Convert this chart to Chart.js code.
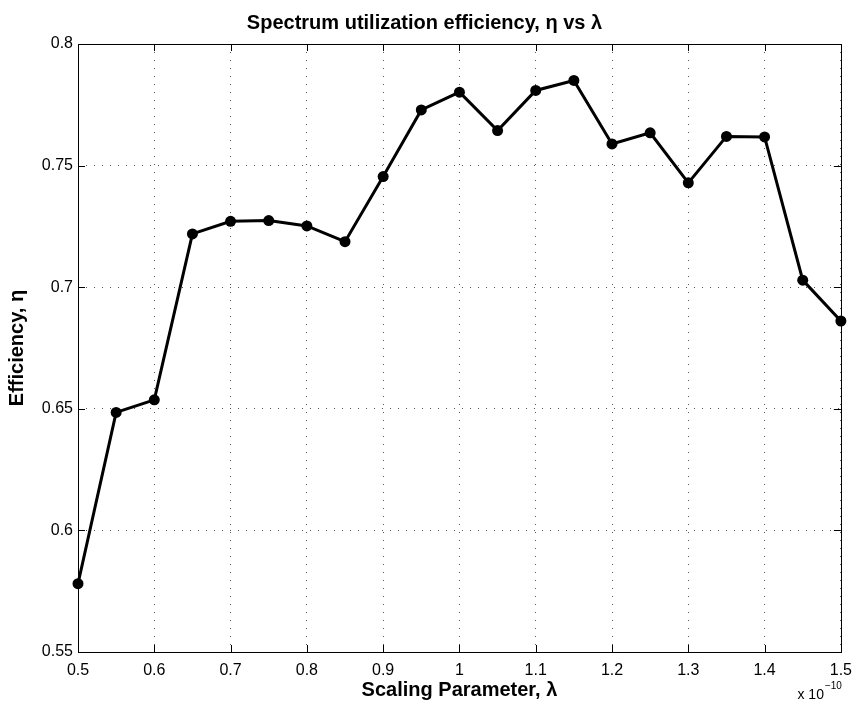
<!DOCTYPE html>
<html><head><meta charset="utf-8">
<script src="https://cdn.jsdelivr.net/npm/chart.js@4.4.1/dist/chart.umd.min.js"></script>
<style>html,body{margin:0;padding:0;background:#fff}#wrap{width:861px;height:705px;position:relative}</style>
</head><body><div id="wrap"><canvas id="c"></canvas></div>
<script>
const lambdaValues = [0.5,0.55,0.6,0.65,0.7,0.75,0.8,0.85,0.9,0.95,1.0,1.05,1.1,1.15,1.2,1.25,1.3,1.35,1.4,1.45,1.5];
const efficiency = [0.5781,0.6485,0.6537,0.7219,0.7271,0.7274,0.7252,0.7187,0.7455,0.7729,0.7802,0.7644,0.7809,0.7850,0.7589,0.7635,0.7429,0.7620,0.7618,0.7029,0.6861];
const xTickValues = [0.5,0.6,0.7,0.8,0.9,1.0,1.1,1.2,1.3,1.4,1.5];
const xTickLabels = ['0.5','0.6','0.7','0.8','0.9','1','1.1','1.2','1.3','1.4','1.5'];
const yTickValues = [0.55,0.6,0.65,0.7,0.75,0.8];
const yTickLabels = ['0.55','0.6','0.65','0.7','0.75','0.8'];
const chartTitle = 'Spectrum utilization efficiency, \u03B7 vs \u03BB';
const xTitle = 'Scaling Parameter, \u03BB';
const yTitle = 'Efficiency, \u03B7';
const xMultiplier = ['x 10', '\u221210'];

const FONT = "'Liberation Sans', Arial, Helvetica, sans-serif";

const boxPlugin = {
  id: 'box',
  afterDatasetsDraw(chart) {
    const {ctx, chartArea: a, scales} = chart;
    ctx.save();
    ctx.strokeStyle = '#000';
    ctx.lineWidth = 1;
    ctx.setLineDash([]);
    const L = 7;
    ctx.beginPath();
    scales.x.ticks.forEach(t => {
      const px = Math.round(scales.x.getPixelForValue(t.value)) + 0.5;
      ctx.moveTo(px, a.bottom); ctx.lineTo(px, a.bottom - L);
      ctx.moveTo(px, a.top); ctx.lineTo(px, a.top + L);
    });
    scales.y.ticks.forEach(t => {
      const py = Math.round(scales.y.getPixelForValue(t.value)) + 0.5;
      ctx.moveTo(a.left, py); ctx.lineTo(a.left + L, py);
      ctx.moveTo(a.right, py); ctx.lineTo(a.right - L, py);
    });
    ctx.stroke();
    ctx.strokeRect(Math.round(a.left) + 0.5, Math.round(a.top) + 0.5, Math.round(a.right - a.left), Math.round(a.bottom - a.top));
    // multiplier text
    ctx.fillStyle = '#000';
    ctx.textBaseline = 'alphabetic';
    ctx.textAlign = 'left';
    ctx.font = '10px ' + FONT;
    const supW = ctx.measureText(xMultiplier[1]).width;
    ctx.font = '14px ' + FONT;
    const baseW = ctx.measureText(xMultiplier[0]).width;
    const right = a.right + 1;
    ctx.fillText(xMultiplier[0], right - supW - baseW - 1, 699);
    ctx.font = '10px ' + FONT;
    ctx.fillText(xMultiplier[1], right - supW, 689);
    ctx.restore();
  }
};

new Chart(document.getElementById('c'), {
  type: 'line',
  data: {
    datasets: [{
      data: lambdaValues.map((x, i) => ({x, y: efficiency[i]})),
      borderColor: '#000',
      backgroundColor: '#000',
      borderWidth: 3,
      pointRadius: 5.5,
      pointBackgroundColor: '#000',
      pointBorderColor: '#000',
      pointBorderWidth: 0,
      tension: 0,
      clip: false
    }]
  },
  options: {
    responsive: true,
    maintainAspectRatio: false,
    animation: false,
    devicePixelRatio: 1,
    layout: {padding: {left: 0, right: 12, top: 0, bottom: 0}},
    plugins: {
      legend: {display: false},
      tooltip: {enabled: false},
      title: {
        display: true,
        text: chartTitle,
        color: '#000',
        font: {family: FONT, size: 20, weight: 'bold'},
        padding: {top: 11, bottom: 9}
      }
    },
    scales: {
      x: {
        type: 'linear',
        min: 0.5, max: 1.5,
        afterBuildTicks: s => { s.ticks = xTickValues.map(v => ({value: v})); },
        afterFit: s => { s.height = 53; },
        ticks: {
          color: '#000', padding: 9, maxRotation: 0, autoSkip: false,
          font: {family: FONT, size: 16},
          callback: (v, i) => xTickLabels[i]
        },
        grid: {color: '#555', lineWidth: 1, drawTicks: false},
        border: {display: false, dash: [1, 7]},
        title: {
          display: true, text: xTitle, color: '#000',
          font: {family: FONT, size: 20, weight: 'bold'},
          padding: {top: 0, bottom: 3}
        }
      },
      y: {
        type: 'linear',
        min: 0.55, max: 0.8,
        afterBuildTicks: s => { s.ticks = yTickValues.map(v => ({value: v})); },
        afterFit: s => { s.width = 78; },
        ticks: {
          color: '#000', padding: 5, autoSkip: false,
          font: {family: FONT, size: 16},
          callback: (v, i) => yTickLabels[i]
        },
        grid: {color: '#555', lineWidth: 1, drawTicks: false},
        border: {display: false, dash: [1, 7]},
        title: {
          display: true, text: yTitle, color: '#000',
          font: {family: FONT, size: 20, weight: 'bold'},
          padding: {top: 5, bottom: 0}
        }
      }
    }
  },
  plugins: [boxPlugin]
});
</script></body></html>
